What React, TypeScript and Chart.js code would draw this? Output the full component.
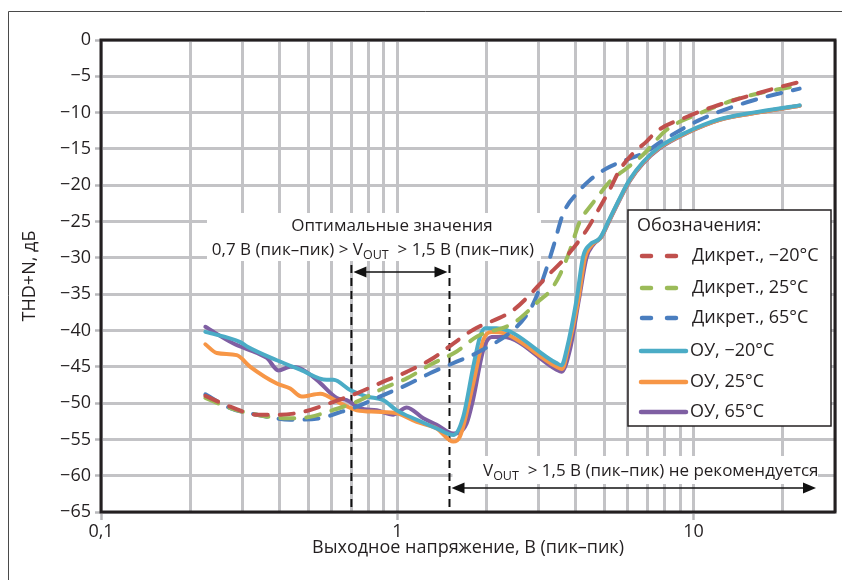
import React, { useEffect, useRef } from "react";
import { Chart, registerables } from "chart.js";

Chart.register(...registerables);

const FONT = "'Open Sans', 'DejaVu Sans', sans-serif";
const FS = 17;
const FS_AXIS = 18;
const TEXT_COLOR = "#231f20";

// ---- axis ticks ----
const xTickValues = [0.1, 0.2, 0.3, 0.4, 0.5, 0.6, 0.7, 0.8, 0.9, 1, 2, 3, 4, 5, 6, 7, 8, 9, 10, 20, 30];
const xTickLabels: Record<string, string> = { "0.1": "0,1", "1": "1", "10": "10" };
const yMin = -65;
const yMax = 0;
const yStep = 5;

// ---- series ----
const seriesLabels = ["Дикрет., −20°C", "Дикрет., 25°C", "Дикрет., 65°C", "ОУ, −20°C", "ОУ, 25°C", "ОУ, 65°C"];
const seriesColors = ["#c0504d", "#9bbb59", "#4a7ebf", "#4bacc6", "#f79646", "#7f5fa3"];
const seriesDashed = [true, true, true, false, false, false];

const discM20X = [0.225, 0.273, 0.336, 0.402, 0.482, 0.593, 0.73, 0.897, 1.076, 1.323, 1.545, 1.804, 2.461, 3.03, 3.19, 3.63, 4.35, 4.83, 5.21, 5.63, 6.25, 6.93, 7.49, 9.46, 11.63, 15.07, 21.63, 22.8];
const discM20Y = [-49.0, -50.5, -51.6, -51.6, -51.2, -50.0, -48.65, -47.05, -45.7, -43.8, -41.8, -39.9, -37.2, -33.6, -32.6, -30.3, -26.2, -23.0, -20.6, -17.9, -15.6, -14.0, -12.6, -10.6, -9.2, -7.8, -6.0, -5.8];

const disc25X = [0.225, 0.273, 0.336, 0.424, 0.508, 0.608, 0.73, 0.897, 1.076, 1.289, 1.586, 1.852, 2.461, 3.03, 3.27, 3.54, 3.82, 4.13, 4.46, 4.7, 5.21, 5.93, 6.75, 8.09, 10.49, 13.58, 17.6, 22.8];
const disc25Y = [-49.3, -50.7, -51.6, -52.1, -51.9, -50.95, -49.8, -47.96, -46.6, -44.75, -42.9, -40.86, -39.0, -35.8, -34.6, -32.3, -29.0, -25.0, -23.0, -21.8, -19.5, -17.7, -15.8, -12.4, -10.1, -8.3, -7.1, -6.3];

const disc65X = [0.225, 0.273, 0.336, 0.435, 0.549, 0.625, 0.73, 0.897, 1.076, 1.289, 1.586, 1.852, 2.527, 2.8, 2.95, 3.15, 3.36, 3.63, 4.08, 4.46, 5.08, 5.93, 6.93, 7.69, 10.49, 13.58, 17.6, 22.8];
const disc65Y = [-48.8, -50.7, -51.6, -52.3, -52.1, -51.4, -50.5, -48.9, -47.5, -45.9, -44.3, -43.1, -39.5, -37.2, -35.3, -32.1, -28.5, -23.9, -20.9, -19.3, -17.7, -16.5, -15.4, -14.1, -11.0, -9.2, -7.8, -6.7];

const opM20X = [0.225, 0.295, 0.311, 0.392, 0.47, 0.578, 0.609, 0.693, 0.789, 0.897, 0.995, 1.163, 1.358, 1.545, 1.669, 1.804, 1.9, 1.975, 2.163, 3.446, 3.584, 3.725, 4.026, 4.238, 4.464, 4.825, 5.21, 5.63, 6.09, 6.75, 7.69, 9.46, 12.25, 15.86, 22.8];
const opM20Y = [-40.2, -41.6, -42.2, -44.1, -45.4, -46.8, -46.8, -48.2, -49.1, -49.6, -51.0, -52.3, -53.5, -54.4, -51.9, -45.0, -40.9, -39.7, -39.7, -44.5, -44.8, -42.7, -35.8, -29.8, -28.2, -27.3, -24.6, -21.8, -19.2, -16.8, -14.7, -12.7, -10.9, -10.0, -9.0];

const op25X = [0.225, 0.246, 0.287, 0.319, 0.392, 0.435, 0.476, 0.549, 0.641, 0.73, 0.852, 0.995, 1.163, 1.358, 1.545, 1.627, 1.804, 1.95, 2.081, 2.3, 3.446, 3.6, 3.76, 4.08, 4.3, 4.52, 4.86, 5.21, 5.63, 6.09, 6.75, 7.69, 9.46, 12.25, 15.86, 22.8];
const op25Y = [-41.9, -43.1, -43.4, -45.0, -47.3, -48.0, -49.1, -48.7, -50.0, -51.0, -51.2, -51.4, -52.6, -53.5, -55.3, -54.6, -47.3, -41.3, -40.2, -40.4, -45.0, -45.3, -42.7, -35.8, -30.0, -28.3, -27.2, -24.7, -21.9, -19.3, -16.9, -14.8, -12.8, -11.0, -10.1, -9.05];

const op65X = [0.225, 0.28, 0.336, 0.363, 0.397, 0.435, 0.47, 0.535, 0.625, 0.675, 0.749, 0.852, 0.969, 1.076, 1.224, 1.358, 1.545, 1.714, 1.8, 1.95, 2.081, 2.272, 3.446, 3.584, 3.823, 4.1, 4.35, 4.58, 4.89, 5.21, 5.63, 6.09, 6.75, 7.69, 9.46, 12.25, 15.86, 22.8];
const op65Y = [-39.5, -41.8, -43.1, -43.8, -45.5, -45.0, -45.2, -46.8, -49.3, -49.6, -50.7, -51.0, -51.6, -50.6, -52.1, -53.0, -54.2, -52.8, -49.6, -42.7, -40.9, -40.9, -45.4, -45.7, -42.7, -35.8, -30.0, -28.2, -27.1, -24.8, -22.0, -19.4, -17.0, -14.9, -12.85, -11.0, -10.1, -9.05];

const seriesX = [discM20X, disc25X, disc65X, opM20X, op25X, op65X];
const seriesY = [discM20Y, disc25Y, disc65Y, opM20Y, op25Y, op65Y];

// ---- texts ----
const xTitle = "Выходное напряжение, В (пик–пик)";
const yTitle = "THD+N, дБ";
const legendTitle = "Обозначения:";
const optTitle = "Оптимальные значения";
const optLeft = "0,7 В (пик–пик) > V";
const optRight = "  > 1,5 В (пик–пик)";
const notRecRight = "  > 1,5 В (пик–пик) не рекомендуется";
const subText = "OUT";
const optLow = 0.7;
const optHigh = 1.5;

const isDecade = (v: number) => Math.abs(Math.log10(v) - Math.round(Math.log10(v))) < 1e-9;

function drawRich(ctx: CanvasRenderingContext2D, parts: { t: string; sub?: boolean }[], x: number, y: number, align: "left" | "center") {
  const normal = `${FS}px ${FONT}`;
  const small = `12.5px ${FONT}`;
  let w = 0;
  for (const p of parts) {
    ctx.font = p.sub ? small : normal;
    w += ctx.measureText(p.t).width;
  }
  let cx = align === "center" ? x - w / 2 : x;
  ctx.textAlign = "left";
  ctx.textBaseline = "middle";
  ctx.fillStyle = TEXT_COLOR;
  for (const p of parts) {
    ctx.font = p.sub ? small : normal;
    ctx.fillText(p.t, cx, p.sub ? y + 5 : y);
    cx += ctx.measureText(p.t).width;
  }
}

function arrowHead(ctx: CanvasRenderingContext2D, tipX: number, y: number, dir: number) {
  ctx.beginPath();
  ctx.moveTo(tipX, y);
  ctx.lineTo(tipX - dir * 13, y - 5.5);
  ctx.lineTo(tipX - dir * 13, y + 5.5);
  ctx.closePath();
  ctx.fill();
}

function doubleArrow(ctx: CanvasRenderingContext2D, x1: number, x2: number, y: number) {
  ctx.save();
  ctx.strokeStyle = "#111";
  ctx.fillStyle = "#111";
  ctx.lineWidth = 1.6;
  ctx.setLineDash([]);
  ctx.beginPath();
  ctx.moveTo(x1 + 6, y);
  ctx.lineTo(x2 - 6, y);
  ctx.stroke();
  arrowHead(ctx, x1, y, -1);
  arrowHead(ctx, x2, y, 1);
  ctx.restore();
}

const decorPlugin = {
  id: "decor",
  beforeDraw(chart: any) {
    const ctx: CanvasRenderingContext2D = chart.ctx;
    ctx.save();
    ctx.fillStyle = "#fff";
    ctx.fillRect(0, 0, chart.width, chart.height);
    ctx.strokeStyle = "#4a4a4a";
    ctx.lineWidth = 1;
    ctx.beginPath();
    ctx.moveTo(8.5, chart.height);
    ctx.lineTo(8.5, 11.5);
    ctx.lineTo(chart.width, 11.5);
    ctx.stroke();
    ctx.restore();
  },
  beforeDatasetsDraw(chart: any) {
    const ctx: CanvasRenderingContext2D = chart.ctx;
    const a = chart.chartArea;
    const xs = chart.scales.x;
    const xl = xs.getPixelForValue(optLow);
    const xh = xs.getPixelForValue(optHigh);
    ctx.save();
    // white boxes behind texts
    ctx.fillStyle = "#fff";
    ctx.fillRect(207, 213, 334, 48);
    ctx.fillRect(xh + 3, 456, a.right - 17 - xh - 3, 28);
    // dashed markers
    ctx.strokeStyle = "#111";
    ctx.lineWidth = 2;
    ctx.setLineDash([8, 5]);
    for (const px of [xl, xh]) {
      ctx.beginPath();
      ctx.moveTo(px, 265);
      ctx.lineTo(px, a.bottom);
      ctx.stroke();
    }
    ctx.setLineDash([]);
    doubleArrow(ctx, xl + 2, xh - 2, 272);
    doubleArrow(ctx, xh + 2, a.right - 19, 488);
    // texts
    ctx.font = `${FS}px ${FONT}`;
    ctx.fillStyle = TEXT_COLOR;
    ctx.textAlign = "center";
    ctx.textBaseline = "middle";
    ctx.fillText(optTitle, 392, 226);
    drawRich(ctx, [{ t: optLeft }, { t: subText, sub: true }, { t: optRight }], 373, 250, "center");
    drawRich(ctx, [{ t: "V" }, { t: subText, sub: true }, { t: notRecRight }], 483, 471, "left");
    // plot frame
    ctx.strokeStyle = "#231f20";
    ctx.lineWidth = 3;
    ctx.strokeRect(a.left, a.top, a.right - a.left, a.bottom - a.top);
    ctx.restore();
  },
  afterDatasetsDraw(chart: any) {
    const ctx: CanvasRenderingContext2D = chart.ctx;
    ctx.save();
    const bx = 628, by = 210, bw = 203, bh = 216;
    ctx.fillStyle = "#fff";
    ctx.fillRect(bx, by, bw, bh);
    ctx.strokeStyle = "#231f20";
    ctx.lineWidth = 1.5;
    ctx.strokeRect(bx, by, bw, bh);
    ctx.font = `${FS_AXIS}px ${FONT}`;
    ctx.fillStyle = TEXT_COLOR;
    ctx.textAlign = "left";
    ctx.textBaseline = "middle";
    ctx.fillText(legendTitle, 637, 226);
    const rows = [256, 288, 318, 351, 382, 412];
    chart.data.datasets.forEach((ds: any, i: number) => {
      const y = rows[i];
      ctx.strokeStyle = ds.borderColor;
      ctx.lineWidth = 4.5;
      ctx.lineCap = "round";
      if (seriesDashed[i]) {
        ctx.setLineDash([9, 16]);
        ctx.beginPath();
        ctx.moveTo(642, y);
        ctx.lineTo(678, y);
        ctx.stroke();
      } else {
        ctx.setLineDash([]);
        ctx.beginPath();
        ctx.moveTo(641, y);
        ctx.lineTo(686, y);
        ctx.stroke();
      }
      ctx.setLineDash([]);
      ctx.fillStyle = TEXT_COLOR;
      ctx.fillText(ds.label, seriesDashed[i] ? 692 : 690, y);
    });
    ctx.restore();
  },
};

export default function App() {
  const ref = useRef<HTMLCanvasElement | null>(null);
  useEffect(() => {
    if (!ref.current) return;
    Chart.defaults.font.family = FONT;
    Chart.defaults.font.size = FS;
    Chart.defaults.color = TEXT_COLOR;
    const datasets = seriesLabels.map((label, i) => ({
      label,
      data: seriesX[i].map((x, j) => ({ x, y: seriesY[i][j] })),
      borderColor: seriesColors[i],
      backgroundColor: seriesColors[i],
      borderWidth: 4,
      borderDash: seriesDashed[i] ? [14, 12] : [],
      borderCapStyle: "round",
      borderJoinStyle: "round",
      pointRadius: 0,
      cubicInterpolationMode: "monotone",
      fill: false,
    }));
    const chart = new Chart(ref.current, {
      type: "line",
      data: { datasets } as any,
      plugins: [decorPlugin as any],
      options: {
        animation: false,
        responsive: false,
        devicePixelRatio: 1,
        layout: { padding: { left: 0, right: 7, top: 40, bottom: 0 } },
        plugins: { legend: { display: false }, tooltip: { enabled: false } },
        scales: {
          x: {
            type: "logarithmic",
            min: 0.1,
            max: 30,
            afterBuildTicks: (scale: any) => {
              scale.ticks = xTickValues.map((v) => ({ value: v, major: isDecade(v) }));
            },
            afterFit: (scale: any) => {
              scale.height = 68;
            },
            ticks: {
              autoSkip: false,
              maxRotation: 0,
              padding: 1,
              font: { size: FS_AXIS },
              color: TEXT_COLOR,
              callback: (value: any) => {
                const key = String(Number(value));
                return xTickLabels[key] ?? "";
              },
            },
            grid: {
              color: "#c3c3c6",
              lineWidth: 3,
              tickLength: 8,
              tickWidth: 2.5,
              tickColor: (ctx: any) => (ctx.tick && isDecade(ctx.tick.value) ? "#b8b8bb" : "rgba(0,0,0,0)"),
            },
            border: { display: false },
            title: {
              display: true,
              text: xTitle,
              font: { size: FS_AXIS },
              color: TEXT_COLOR,
              padding: { top: 0, bottom: 21 },
            },
          },
          y: {
            type: "linear",
            min: yMin,
            max: yMax,
            afterFit: (scale: any) => {
              scale.width = 101;
            },
            ticks: {
              stepSize: yStep,
              padding: 4,
              font: { size: FS_AXIS },
              color: TEXT_COLOR,
              callback: (value: any) => String(value).replace("-", "−"),
            },
            grid: {
              color: "#c3c3c6",
              lineWidth: 3,
              tickLength: 6,
              tickWidth: 2.5,
              tickColor: "#b8b8bb",
            },
            border: { display: false },
            title: {
              display: true,
              text: yTitle,
              font: { size: FS_AXIS },
              color: TEXT_COLOR,
              padding: { top: 19, bottom: 0 },
            },
          },
        },
      } as any,
    });
    return () => chart.destroy();
  }, []);
  return (
    <div style={{ position: "absolute", left: 0, top: 0, width: 842, height: 580 }}>
      <canvas ref={ref} width={842} height={580} style={{ display: "block", width: 842, height: 580 }} />
    </div>
  );
}
